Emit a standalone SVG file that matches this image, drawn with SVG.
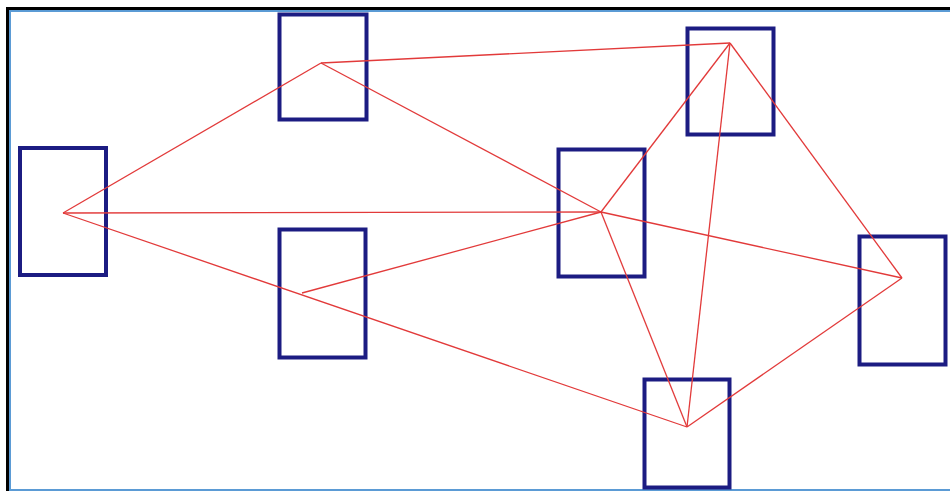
<svg xmlns="http://www.w3.org/2000/svg" width="950" height="491" viewBox="0 0 950 491">
<style>
.node{fill:none;stroke:#1c1c82;stroke-width:4}
.edge{stroke:#e23a3a;stroke-width:1.3;fill:none}
</style>
<rect width="950" height="491" fill="#fff"/>
<g id="frame">
<path d="M7.5 491V8.5H950" fill="none" stroke="#000" stroke-width="3"/>
<path d="M10 491V11H950" fill="none" stroke="#5b9bd5" stroke-width="2"/>
<line x1="10" y1="490" x2="950" y2="490" stroke="#5b9bd5" stroke-width="2"/>
</g>
<g id="n1"><rect class="node" x="20" y="148" width="86" height="127"/></g>
<g id="n2"><rect class="node" x="279.5" y="14.5" width="87" height="105"/></g>
<g id="n3"><rect class="node" x="279.5" y="229.5" width="86" height="128"/></g>
<g id="n4"><rect class="node" x="558.5" y="149.5" width="86" height="127"/></g>
<g id="n5"><rect class="node" x="687.5" y="28.5" width="86" height="106"/></g>
<g id="n6"><rect class="node" x="859.5" y="236.5" width="86" height="128"/></g>
<g id="n7"><rect class="node" x="644.5" y="379.5" width="85" height="108"/></g>
<g id="edges" class="edge">
<line x1="63" y1="213" x2="321" y2="63"/>
<line x1="63" y1="213" x2="601" y2="212"/>
<line x1="63" y1="213" x2="687" y2="427"/>
<line x1="302" y1="293" x2="601" y2="212"/>
<line x1="321" y1="63" x2="730" y2="43"/>
<line x1="321" y1="63" x2="601" y2="212"/>
<line x1="601" y1="212" x2="730" y2="43"/>
<line x1="601" y1="212" x2="902" y2="278"/>
<line x1="601" y1="212" x2="687" y2="427"/>
<line x1="730" y1="43" x2="687" y2="427"/>
<line x1="730" y1="43" x2="902" y2="278"/>
<line x1="902" y1="278" x2="687" y2="427"/>
</g>
</svg>
